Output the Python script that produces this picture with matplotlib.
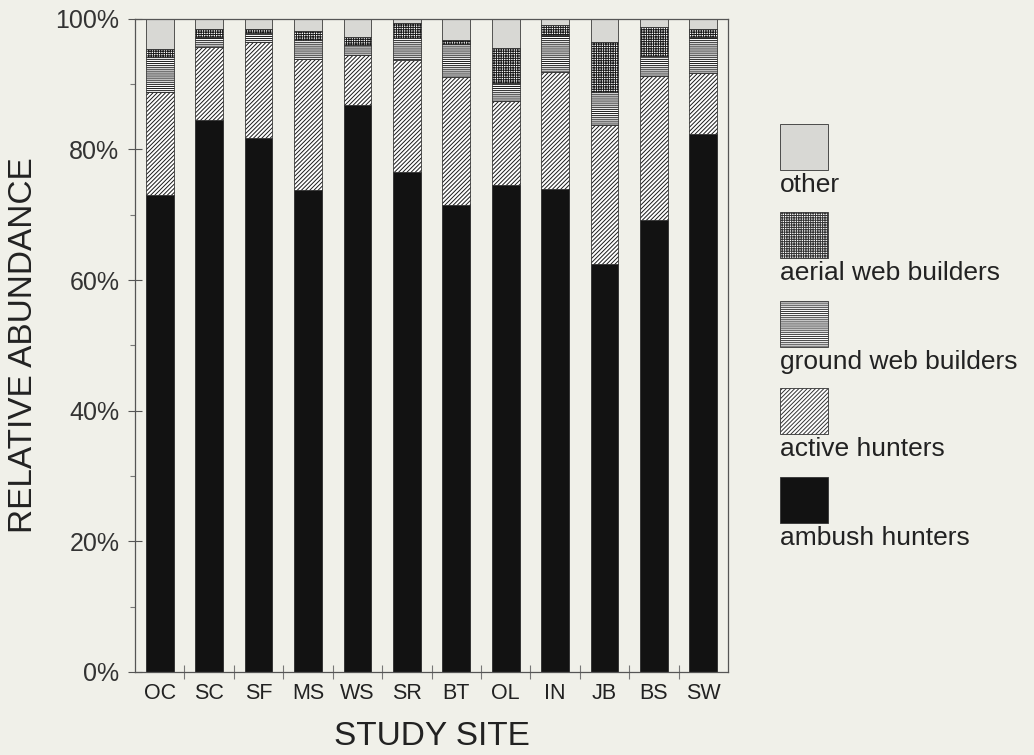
import numpy as np
import matplotlib
matplotlib.use('Agg')
import matplotlib.pyplot as plt
from matplotlib.patches import Rectangle
from matplotlib.ticker import FixedLocator, MultipleLocator, PercentFormatter

# Values (percent of spiders per guild at each study site)
sites = ['OC', 'SC', 'SF', 'MS', 'WS', 'SR', 'BT', 'OL', 'IN', 'JB', 'BS', 'SW']
ambush = [73.0, 84.5, 81.7, 73.8, 86.8, 76.5, 71.5, 74.5, 73.9, 62.4, 69.2, 82.4]
active = [15.8, 11.2, 14.8, 20.1, 7.7, 17.2, 19.6, 12.9, 18.0, 21.3, 22.1, 9.3]
ground = [5.4, 1.5, 1.4, 2.9, 1.5, 3.4, 5.1, 2.8, 5.6, 5.1, 3.0, 5.5]
aerial = [1.2, 1.3, 0.6, 1.4, 1.2, 2.3, 0.6, 5.4, 1.6, 7.7, 4.5, 1.3]
other = [4.6, 1.5, 1.5, 1.8, 2.8, 0.6, 3.2, 4.4, 0.9, 3.5, 1.2, 1.5]

guild_names = ['ambush hunters', 'active hunters', 'ground web builders',
               'aerial web builders', 'other']

bg = '#f0f0e9'
plt.rcParams['font.family'] = ['Liberation Sans', 'DejaVu Sans']
plt.rcParams['hatch.linewidth'] = 0.7

# fill style for each guild: (facecolor, hatch)
styles = [('#121212', None), ('white', '////////'), ('white', '--------'),
          ('white', '+++++++'), ('#d8d8d4', None)]

fig = plt.figure(figsize=(10.34, 7.55), dpi=100, facecolor=bg)
ax = fig.add_axes([0.1306, 0.110, 0.5735, 0.865], facecolor=bg)

x = np.arange(len(sites))
bottom = np.zeros(len(sites))
for vals, (fc, hatch) in zip([ambush, active, ground, aerial, other], styles):
    ax.bar(x, vals, width=0.56, bottom=bottom, color=fc, hatch=hatch,
           edgecolor='#1a1a1a', linewidth=0.5)
    bottom += np.array(vals)

ax.set_xlim(-0.5, 11.5)
ax.set_ylim(0, 100)

for s in ax.spines.values():
    s.set_color('#555555')
    s.set_linewidth(0.9)

ax.yaxis.set_major_locator(MultipleLocator(20))
ax.yaxis.set_minor_locator(MultipleLocator(10))
ax.yaxis.set_major_formatter(PercentFormatter(decimals=0))
ax.tick_params(axis='y', which='major', direction='inout', length=10.5,
               width=0.8, color='#555555', labelsize=18, pad=6, labelcolor='#333333')
ax.tick_params(axis='y', which='minor', direction='out', length=3.5,
               width=0.8, color='#777777')

ax.set_xticks(x)
ax.set_xticklabels(sites)
ax.xaxis.set_minor_locator(FixedLocator(np.arange(0.5, 11, 1)))
ax.tick_params(axis='x', which='major', length=0, labelsize=15.5, pad=8,
               labelcolor='#222222')
ax.tick_params(axis='x', which='minor', direction='inout', length=10,
               width=0.8, color='#777777')

ax.set_xlabel('STUDY SITE', fontsize=24, labelpad=12, color='#222222')
ax.set_ylabel('RELATIVE ABUNDANCE', fontsize=24, labelpad=12, color='#222222')

# legend: swatch with its label underneath, drawn top to bottom
W, H = 1034.0, 755.0
sw_tops = [124, 212, 301, 388, 477]
for i, top in enumerate(sw_tops):
    k = 4 - i
    fc, hatch = styles[k]
    r = Rectangle((780 / W, 1 - (top + 46) / H), 48 / W, 46 / H,
                  transform=fig.transFigure, facecolor=fc, hatch=hatch,
                  edgecolor='#333333', linewidth=0.6)
    fig.add_artist(r)
    fig.text(780 / W, 1 - (top + 49) / H, guild_names[k], fontsize=19,
             va='top', ha='left', color='#222222')

fig.savefig('out.png', dpi=100, facecolor=bg)
